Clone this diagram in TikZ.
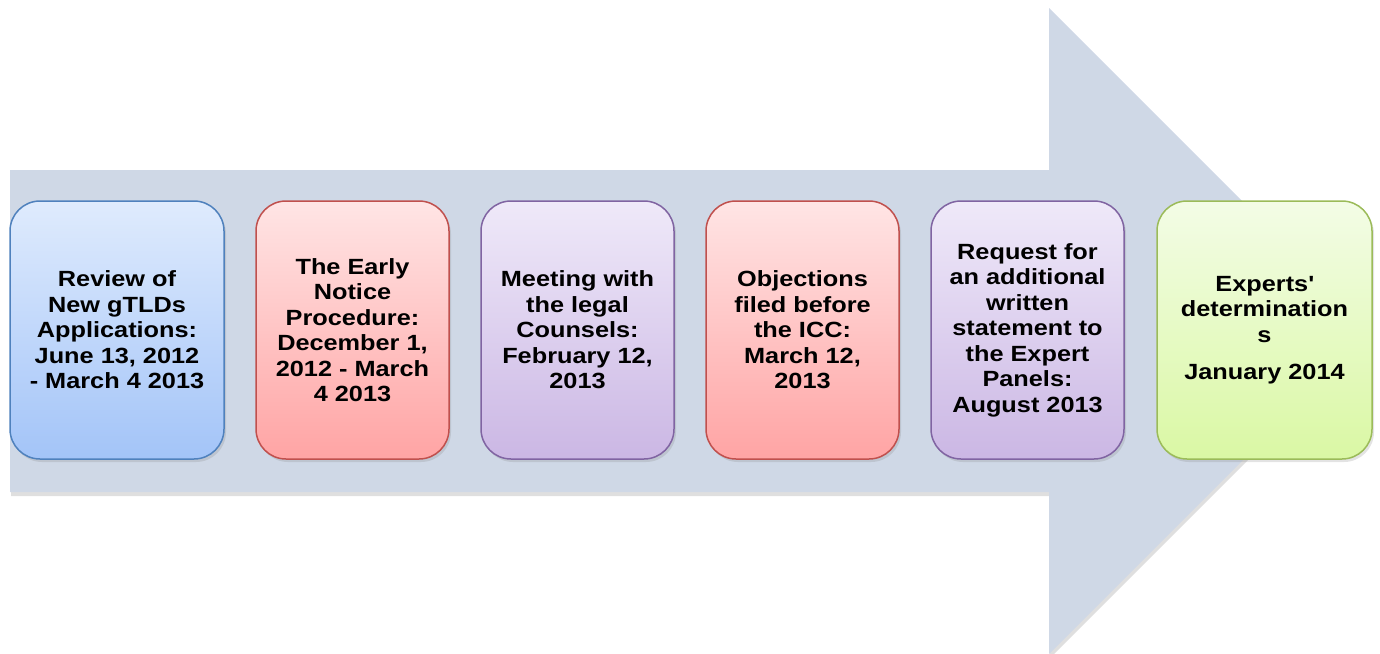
\documentclass[tikz,border=0pt]{standalone}
\usepackage{fontspec}
\setmainfont{Liberation Sans}[FakeStretch=1.15]
\usetikzlibrary{shadows}

% band colour and the four box palettes (fill top, fill bottom, border)
\definecolor{bandgray}{RGB}{207,216,230}
\definecolor{blueTop}{RGB}{223,235,253}
\definecolor{blueBot}{RGB}{163,196,248}
\definecolor{blueLine}{RGB}{79,129,189}
\definecolor{redTop}{RGB}{255,229,229}
\definecolor{redBot}{RGB}{255,164,164}
\definecolor{redLine}{RGB}{192,80,77}
\definecolor{purTop}{RGB}{239,233,249}
\definecolor{purBot}{RGB}{203,183,228}
\definecolor{purLine}{RGB}{128,100,162}
\definecolor{grnTop}{RGB}{243,252,230}
\definecolor{grnBot}{RGB}{218,248,164}
\definecolor{grnLine}{RGB}{155,187,89}

\begin{document}
\begin{tikzpicture}[x=1pt,y=-1pt,
  stage/.style={rounded corners=30pt, line width=1.5pt, minimum height=258pt,
    align=center, inner sep=0pt,
    font=\fontsize{22}{25.5}\selectfont\bfseries,
    drop shadow={opacity=0.22, shadow xshift=2pt, shadow yshift=-3pt}},
  bluebox/.style={stage, draw=blueLine, top color=blueTop, bottom color=blueBot},
  redbox/.style={stage, draw=redLine, top color=redTop, bottom color=redBot},
  purbox/.style={stage, draw=purLine, top color=purTop, bottom color=purBot},
  grnbox/.style={stage, draw=grnLine, top color=grnTop, bottom color=grnBot},
]
\useasboundingbox (0,0) rectangle (1380,653);

% the large background arrow
\fill[bandgray, drop shadow={opacity=0.25, shadow xshift=1pt, shadow yshift=-4pt}]
  (10,170) -- (1049,170) -- (1049,8) -- (1372,331) -- (1049,654)
  -- (1049,492) -- (10,492) -- cycle;

% timeline stages
\node[bluebox, minimum width=214pt] (s1) at (117,330)
  {Review of\\New gTLDs\\Applications:\\June 13, 2012\\- March 4 2013};
\node[redbox, minimum width=193pt] (s2) at (352.5,330)
  {The Early\\Notice\\Procedure:\\December 1,\\2012 - March\\4 2013};
\node[purbox, minimum width=193pt] (s3) at (577.5,330)
  {Meeting with\\the legal\\Counsels:\\February 12,\\2013};
\node[redbox, minimum width=193pt] (s4) at (802.5,330)
  {Objections\\filed before\\the ICC:\\March 12,\\2013};
\node[purbox, minimum width=193pt] (s5) at (1027.5,330)
  {Request for\\an additional\\written\\statement to\\the Expert\\Panels:\\August 2013};
\node[grnbox, minimum width=215pt] (s6) at (1264.5,330)
  {Experts\textquotesingle\\determination\\s\\[12pt]January 2014};
\end{tikzpicture}
\end{document}
